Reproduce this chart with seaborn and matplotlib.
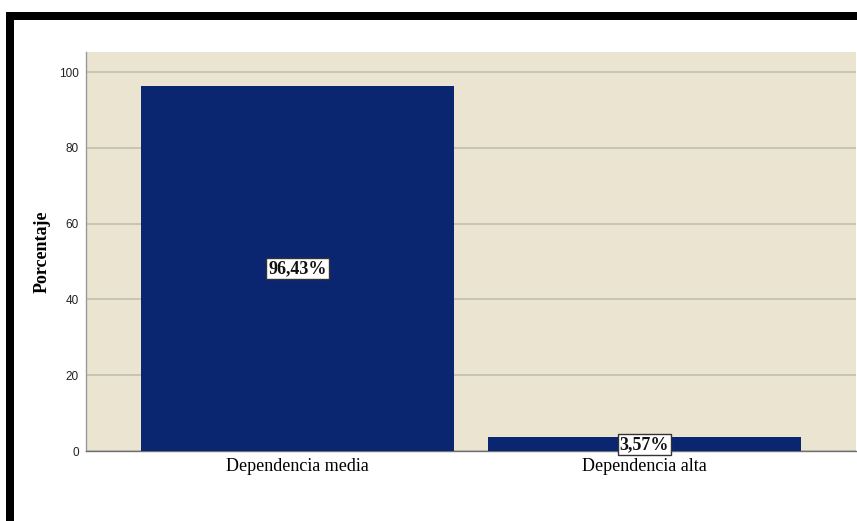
import matplotlib
matplotlib.use("Agg")
import matplotlib.pyplot as plt
import seaborn as sns
import pandas as pd
from matplotlib.patches import Rectangle

categories = ["Dependencia media", "Dependencia alta"]
values = [96.43, 3.57]
labels = ["96,43%", "3,57%"]
yticks = [0, 20, 40, 60, 80, 100]

df = pd.DataFrame({"cat": categories, "pct": values})

W, H = 857, 521
fig = plt.figure(figsize=(W / 100, H / 100), dpi=100)
fig.patch.set_facecolor("white")
ax = fig.add_axes([86 / W, 1 - 451 / H, (856 - 86) / W, (451 - 52) / H])
ax.set_facecolor("#EAE4D0")

sns.barplot(data=df, x="cat", y="pct", color="#0B2670", width=0.9, saturation=1,
            ax=ax, zorder=3, edgecolor="none")

ax.set_xlim(-0.61, 1.61)
ax.set_ylim(0, 105.3)
ax.set_yticks(yticks)
ax.set_yticklabels([str(t) for t in yticks], fontsize=8.5, color="#222222",
                   family="Liberation Sans")
ax.yaxis.grid(True, color="#C4C0B4", linewidth=1.3, zorder=1)
ax.set_axisbelow(True)
ax.tick_params(axis="y", length=0, pad=5)
ax.tick_params(axis="x", length=0, pad=5)
for lab in ax.get_xticklabels():
    lab.set_fontfamily("Liberation Serif")
    lab.set_fontsize(13)
    lab.set_color("black")
ax.set_xlabel("")
ax.set_ylabel("Porcentaje", family="Liberation Serif", fontsize=13,
              fontweight="bold")
ax.yaxis.set_label_coords((51 - 86) / 770, 0.5)

for sp in ["top", "right"]:
    ax.spines[sp].set_visible(False)
ax.spines["left"].set_color("#9A9A9A")
ax.spines["bottom"].set_color("#707070")
ax.spines["left"].set_linewidth(1)
ax.spines["bottom"].set_linewidth(1)

for i, (v, t) in enumerate(zip(values, labels)):
    ax.text(i, v / 2, t, ha="center", va="center", family="Liberation Serif",
            fontsize=13, fontweight="bold", color="#111111", zorder=5,
            bbox=dict(boxstyle="square,pad=0.12", facecolor="white",
                      edgecolor="#333333", linewidth=1))

# black frame lines
fig.add_artist(Rectangle((6 / W, 1 - 20 / H), (W - 6) / W, 8 / H,
                         transform=fig.transFigure, facecolor="black",
                         edgecolor="none"))
fig.add_artist(Rectangle((6 / W, 0), 8 / W, 1 - 12 / H,
                         transform=fig.transFigure, facecolor="black",
                         edgecolor="none"))

fig.savefig("out.png", dpi=100)
